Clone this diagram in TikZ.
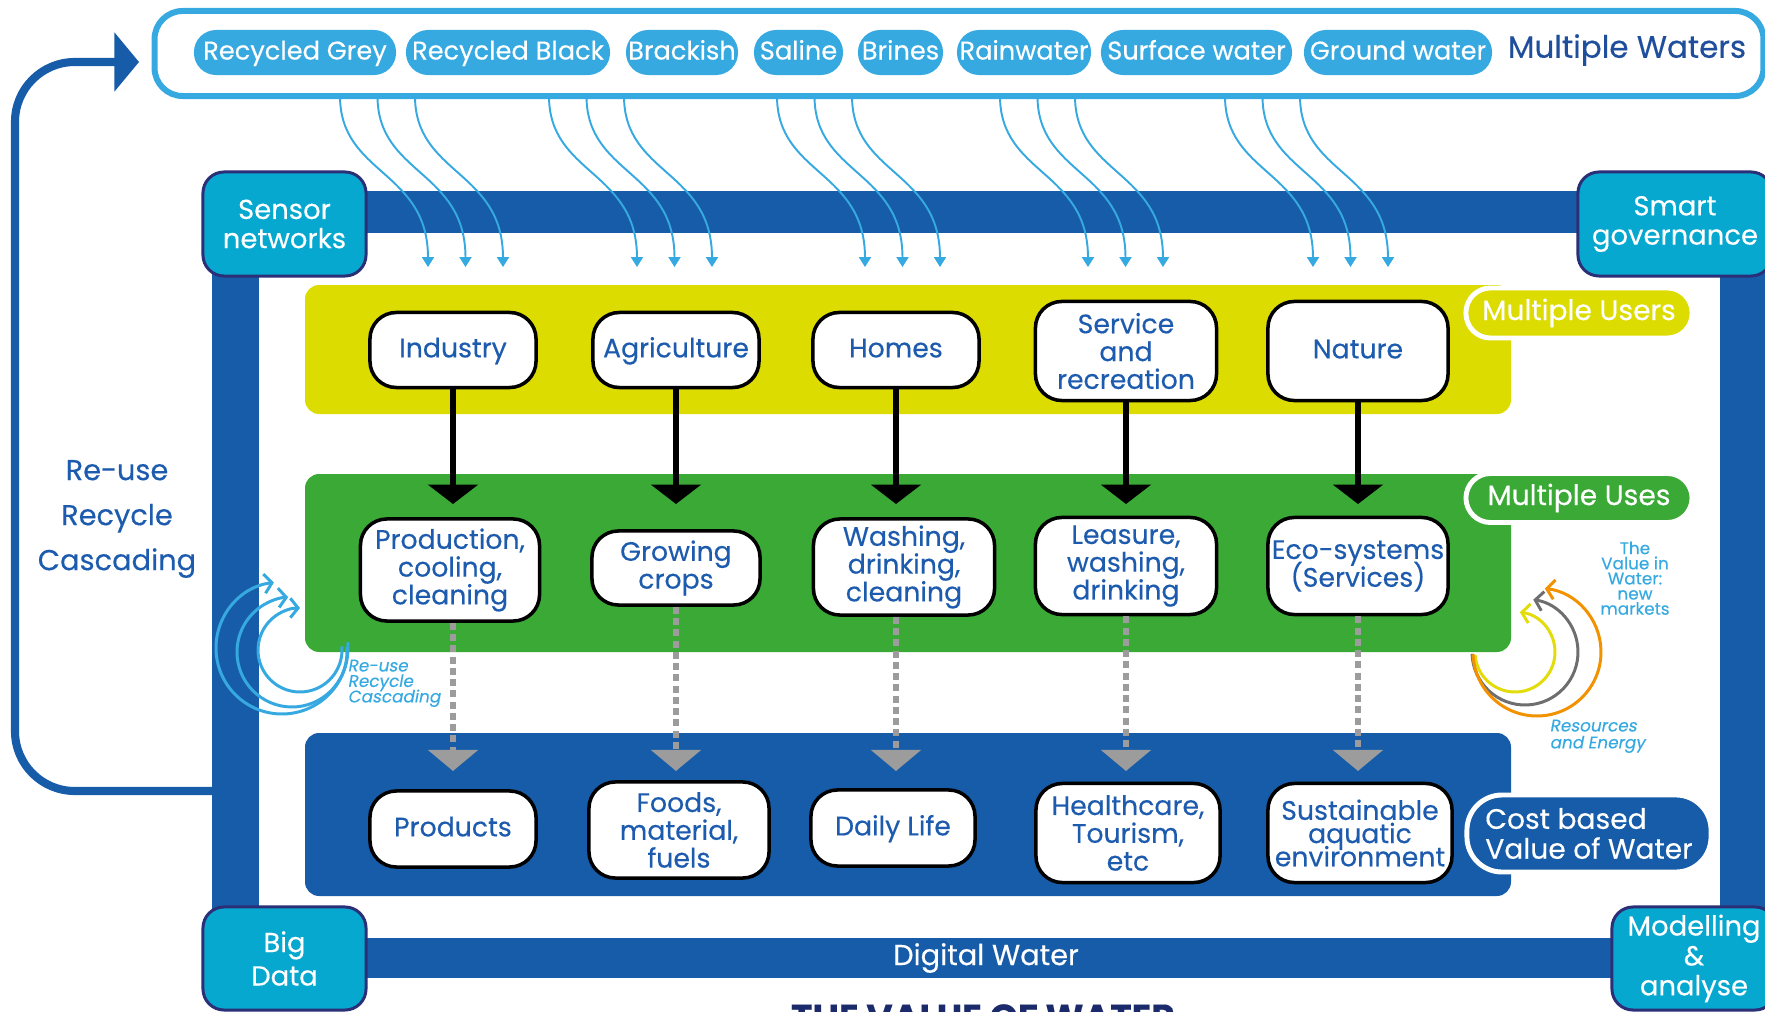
\documentclass[tikz,border=0pt]{standalone}
\usepackage{fontspec}
\setmainfont{Poppins}[FakeBold=0.3]
\newfontfamily\popit{Poppins}[FakeSlant=0.18,FakeBold=0.3]
\usetikzlibrary{arrows.meta}
\definecolor{chipblue}{HTML}{36A9E1}
\definecolor{barblue}{HTML}{175CA8}
\definecolor{cornercyan}{HTML}{06A8CF}
\definecolor{cornernavy}{HTML}{2B2F78}
\definecolor{bandyellow}{HTML}{DDDC00}
\definecolor{bandgreen}{HTML}{3AA935}
\definecolor{txtblue}{HTML}{1D5BAE}
\definecolor{navytxt}{HTML}{1F4F9C}
\definecolor{arrowgrey}{HTML}{9C9C9C}
\definecolor{arcorange}{HTML}{F39200}
\definecolor{arcgrey}{HTML}{6E6E6E}
\definecolor{arcyellow}{HTML}{E2DC0A}
\definecolor{titlenavy}{HTML}{1B2A6B}
\newcommand{\myfs}[2]{\fontsize{#1}{#2}\selectfont\lineskiplimit=-20pt\lineskip=0pt\relax}
\begin{document}
\begin{tikzpicture}[x=0.01cm, y=-0.01cm,
  chip/.style={fill=chipblue, text=white, rounded corners=6.3pt, minimum height=0.45cm, inner sep=0pt, text height=5.2pt, text depth=1.2pt, font=\myfs{7.3}{8}},
  unode/.style={draw=black, line width=1pt, fill=white, rounded corners=7.5pt, text=txtblue, align=center, inner sep=0pt, font=\myfs{7.6}{7.9}},
  oneline/.style={text height=5.5pt, text depth=1.3pt},
  cornerbox/.style={draw=cornernavy, line width=0.85pt, fill=cornercyan, rounded corners=6pt, text=white, align=center, inner sep=0pt, font=\myfs{7.8}{8.3}},
  pill/.style={draw=white, line width=1.4pt, text=white, align=left, inner sep=0pt, font=\myfs{8}{8.5}},
  bluearrow/.style={chipblue, line width=0.55pt, -{Triangle[width=3.4pt,length=2.8pt]}},
  blackarrow/.style={black, line width=1.7pt, -{Triangle[width=14pt,length=5.5pt]}},
  greyarrow/.style={arrowgrey, line width=1.9pt, dash pattern=on 2pt off 1.2pt, -{Triangle[width=14pt,length=6pt]}},
  cyclearrow/.style={line width=0.85pt, -{Straight Barb[length=2.2pt,width=5.5pt]}},
]
\path[use as bounding box, clip] (0,0) rectangle (1765,1012);

% frame bars
\fill[barblue] (300,191) rectangle (1650,233);
\fill[barblue] (212,250) rectangle (259,930);
\fill[barblue] (1720,250) rectangle (1775,930);
\fill[barblue] (300,938) rectangle (1650,978);
\node[text=white, font=\myfs{8.2}{9}] (digital) at (986,958) {Digital Water};

% return arrow
\coordinate (retstart) at (212,791);
\coordinate (rettip) at (139,62);
\draw[barblue, line width=2.3pt, rounded corners=17pt, -{Triangle[width=16.5pt,length=7pt]}]
  (retstart) -- (15,791) -- (15,62) -- (rettip);

% top frame with waters
\node[draw=chipblue, line width=1.7pt, fill=white, rounded corners=8pt, minimum width=16.08cm, minimum height=0.85cm, inner sep=0pt] (waters) at (959,53.5) {};
\node[chip, minimum width=2.02cm] (rgrey) at (295,52.5) {Recycled Grey};
\node[chip, minimum width=2.04cm] (rblack) at (508,52.5) {Recycled Black};
\node[chip, minimum width=1.12cm] (brack) at (682,52.5) {Brackish};
\node[chip, minimum width=0.89cm] (saline) at (798.5,52.5) {Saline};
\node[chip, minimum width=0.85cm] (brines) at (900.5,52.5) {Brines};
\node[chip, minimum width=1.34cm] (rain) at (1024,52.5) {Rainwater};
\node[chip, minimum width=1.91cm] (surf) at (1196.5,52.5) {Surface water};
\node[chip, minimum width=1.88cm] (ground) at (1398,52.5) {Ground water};
\node[text=navytxt, font=\myfs{8.8}{9}] (mwaters) at (1627,50) {Multiple Waters};

% bands
\fill[bandyellow, rounded corners=4pt] (305,285) rectangle (1511,414);
\fill[bandgreen, rounded corners=4pt] (305,474) rectangle (1511,652);
\fill[barblue, rounded corners=4pt] (305,733) rectangle (1511,896);
\node[pill, fill=bandyellow, minimum width=2.26cm, minimum height=0.5cm, rounded corners=7pt] (musers) at (1579,313) {Multiple Users};
\node[pill, fill=bandgreen, minimum width=2.26cm, minimum height=0.49cm, rounded corners=7pt] (muses) at (1579,498) {Multiple Uses};
\node[pill, fill=barblue, minimum width=2.44cm, minimum height=0.77cm, rounded corners=10pt] (cost) at (1589,833.5) {Cost based\\Value of Water};

% curvy water arrows
\foreach \g/\s in {1/340, 2/549, 3/777, 4/1000, 5/1225} {
  \foreach \k in {0,1,2} {
    \pgfmathsetmacro\sx{\s+37.5*\k}
    \pgfmathsetmacro\ex{\sx+88}
    \coordinate (w\g\k) at (\sx,96);
    \coordinate (e\g\k) at (\ex,267);
    \draw[bluearrow] (w\g\k) .. controls +(0,79) and +(0,-97) .. (e\g\k);
  }
}

% corner boxes
\node[cornerbox, minimum width=1.63cm, minimum height=1.04cm] (sensor) at (284.5,224) {Sensor\\networks};
\node[cornerbox, minimum width=1.94cm, minimum height=1.04cm] (smart) at (1675,224) {Smart\\governance};
\node[cornerbox, minimum width=1.63cm, minimum height=1.03cm, font=\myfs{7.8}{9.5}] (bigdata) at (284.5,958.5) {Big\\Data};
\node[cornerbox, minimum width=1.64cm, minimum height=1.03cm, font=\myfs{7.8}{8.5}] (model) at (1694,958.5) {Modelling\\\&\\analyse};

% side texts
\node[text=txtblue, font=\myfs{8.2}{12.8}, align=center] (rrc) at (117,519) {Re-use\\Recycle\\Cascading};
\node[text=chipblue, font=\popit\myfs{4.8}{4.4}, align=left, inner sep=0pt, anchor=north west] (rrcs) at (347,659) {Re-use\\Recycle\\Cascading};
\node[text=chipblue, font=\myfs{4.8}{4.3}, align=center, inner sep=0pt, anchor=north] (value) at (1635,541) {The\\Value in\\Water:\\new\\markets};
\node[text=chipblue, font=\popit\myfs{4.8}{4.8}, align=left, inner sep=0pt, anchor=north west] (res) at (1549,719) {Resources\\and Energy};
\node[text=titlenavy, font=\bfseries\myfs{10.3}{11}, anchor=base] (title) at (983,1030) {THE VALUE OF WATER};

% cycle arrows
\draw[cyclearrow, chipblue] (282,648) ++(-5:66) arc[start angle=-5, end angle=263, radius=66];
\draw[cyclearrow, chipblue] (292,652) ++(-5:55) arc[start angle=-5, end angle=266, radius=55];
\draw[cyclearrow, chipblue] (300,650) ++(-5:42) arc[start angle=-5, end angle=270, radius=42];
\draw[cyclearrow, arcyellow] (1515,652) ++(176:40) arc[start angle=176, end angle=-83, radius=40];
\draw[cyclearrow, arcgrey] (1525,652) ++(178:53) arc[start angle=178, end angle=-81, radius=53];
\draw[cyclearrow, arcorange] (1537,652) ++(178:64) arc[start angle=178, end angle=-83, radius=64];

% users
\node[unode, oneline, minimum width=1.66cm, minimum height=0.75cm] (ind) at (453,350) {Industry};
\node[unode, oneline, minimum width=1.66cm, minimum height=0.75cm] (agr) at (676,350) {Agriculture};
\node[unode, oneline, minimum width=1.66cm, minimum height=0.75cm] (hom) at (896,350) {Homes};
\node[unode, minimum width=1.81cm, minimum height=0.99cm] (ser) at (1126,351) {Service\\and\\recreation};
\node[unode, oneline, minimum width=1.80cm, minimum height=0.99cm] (nat) at (1358,351) {Nature};
% uses
\node[unode, minimum width=1.79cm, minimum height=1.02cm] (pro) at (450,570) {Production,\\cooling,\\cleaning};
\node[unode, minimum width=1.68cm, minimum height=0.74cm] (gro) at (676,568) {Growing\\crops};
\node[unode, minimum width=1.81cm, minimum height=0.96cm] (was) at (904,567) {Washing,\\drinking,\\cleaning};
\node[unode, minimum width=1.81cm, minimum height=0.97cm] (lea) at (1126,566) {Leasure,\\washing,\\drinking};
\node[unode, minimum width=1.80cm, minimum height=0.97cm] (eco) at (1358,566) {Eco-systems\\(Services)};
% values
\node[unode, oneline, minimum width=1.66cm, minimum height=0.76cm] (prd) at (453,829) {Products};
\node[unode, minimum width=1.80cm, minimum height=0.96cm] (foo) at (679,830) {Foods,\\material,\\fuels};
\node[unode, oneline, minimum width=1.64cm, minimum height=0.76cm] (dai) at (893,828) {Daily Life};
\node[unode, minimum width=1.84cm, minimum height=0.99cm] (hea) at (1128,833) {Healthcare,\\Tourism,\\etc};
\node[unode, minimum width=1.84cm, minimum height=0.99cm, font=\myfs{7.6}{6.6}] (sus) at (1360,833) {Sustainable\\aquatic\\environment};

% arrows
\coordinate (blackline) at (0,504);
\coordinate (tipline) at (0,771);
\foreach \u/\v in {ind/pro, agr/gro, hom/was, ser/lea, nat/eco} {
  \draw[blackarrow] (\u.south) -- (\u.south |- blackline);
}
\foreach \u/\v in {ind/pro, agr/gro, hom/was, ser/lea, nat/eco} {
  \draw[greyarrow] (\u.south |- \v.south) -- (\u.south |- tipline);
}
\end{tikzpicture}
\end{document}
